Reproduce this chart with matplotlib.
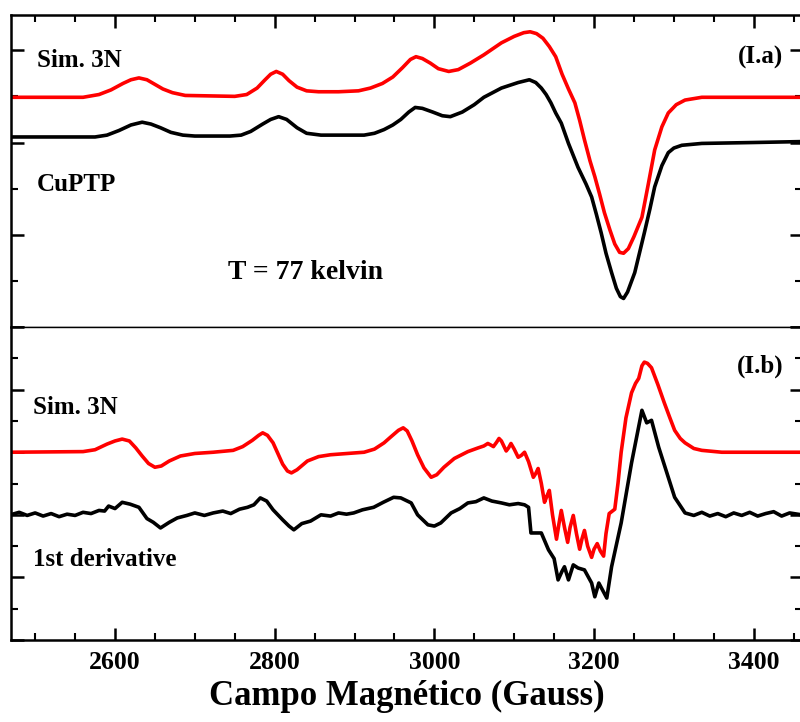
import numpy as np
import matplotlib
matplotlib.use("Agg")
import matplotlib.pyplot as plt
from matplotlib.ticker import MultipleLocator

plt.rcParams['font.family'] = ['Liberation Serif', 'DejaVu Serif']
plt.rcParams['font.weight'] = 'bold'

# ---- Datos (campo en Gauss, intensidad en unidades arbitrarias) ----
# Panel I.a : espectro integrado
campo_sim_a = [2469, 2560, 2580, 2595, 2610, 2620, 2630, 2640, 2650, 2660, 2672, 2688,
               2750, 2765, 2778, 2788, 2795, 2802, 2810, 2818, 2828, 2840, 2855, 2880,
               2905, 2920, 2935, 2948, 2960, 2970, 2977, 2985, 2995, 3005, 3018, 3030,
               3045, 3062, 3084, 3100, 3112, 3120, 3128, 3136, 3144, 3152, 3160, 3168,
               3176, 3182, 3188, 3195, 3201, 3207, 3213, 3220, 3226, 3232, 3237, 3243,
               3250, 3260, 3268, 3276, 3285, 3293, 3303, 3314, 3335, 3460]
sim_a = [2.49, 2.49, 2.52, 2.57, 2.64, 2.68, 2.70, 2.68, 2.63, 2.58, 2.54, 2.51,
         2.50, 2.52, 2.59, 2.68, 2.74, 2.77, 2.74, 2.67, 2.60, 2.56, 2.55, 2.55,
         2.56, 2.59, 2.64, 2.71, 2.81, 2.90, 2.93, 2.91, 2.86, 2.80, 2.77, 2.79,
         2.86, 2.95, 3.08, 3.15, 3.19, 3.20, 3.18, 3.13, 3.04, 2.93, 2.74, 2.58,
         2.43, 2.24, 2.03, 1.80, 1.63, 1.44, 1.24, 1.05, 0.90, 0.81, 0.80, 0.85,
         0.98, 1.19, 1.55, 1.92, 2.17, 2.32, 2.41, 2.46, 2.49, 2.49]

campo_exp_a = [2469, 2575, 2590, 2605, 2620, 2634, 2645, 2657, 2670, 2685, 2700, 2744,
               2758, 2770, 2785, 2795, 2805, 2815, 2828, 2840, 2858, 2912, 2925, 2937,
               2948, 2958, 2968, 2976, 2985, 2998, 3010, 3020, 3035, 3050, 3062, 3084,
               3105, 3119, 3127, 3134, 3140, 3146, 3152, 3159, 3168, 3180, 3190, 3197,
               3203, 3209, 3215, 3222, 3228, 3233, 3237, 3242, 3251, 3263, 3270, 3276,
               3285, 3293, 3300, 3310, 3335, 3400, 3460]
exp_a = [2.06, 2.06, 2.08, 2.13, 2.19, 2.22, 2.20, 2.16, 2.11, 2.08, 2.07, 2.07,
         2.08, 2.12, 2.20, 2.25, 2.28, 2.25, 2.16, 2.10, 2.08, 2.08, 2.10, 2.14,
         2.19, 2.25, 2.33, 2.38, 2.37, 2.33, 2.29, 2.28, 2.33, 2.41, 2.49, 2.59,
         2.65, 2.68, 2.65, 2.59, 2.52, 2.43, 2.32, 2.21, 1.99, 1.73, 1.55, 1.41,
         1.22, 1.02, 0.80, 0.59, 0.42, 0.33, 0.31, 0.38, 0.59, 1.02, 1.28, 1.52,
         1.75, 1.89, 1.94, 1.97, 1.99, 2.00, 2.01]

# Panel I.b : primera derivada
campo_sim_b = [2469, 2560, 2575, 2590, 2600, 2609, 2618, 2626, 2634, 2642, 2650, 2658,
               2668, 2682, 2700, 2723, 2748, 2760, 2772, 2780, 2785, 2791, 2798, 2804,
               2810, 2816, 2821, 2828, 2841, 2855, 2870, 2912, 2925, 2937, 2945, 2955,
               2961, 2966, 2972, 2979, 2987, 2996, 3003, 3012, 3025, 3042, 3055, 3062,
               3067, 3070, 3074, 3078, 3081, 3084, 3090, 3093, 3096, 3100, 3105, 3109,
               3113, 3118, 3124, 3127, 3130, 3134, 3138, 3141, 3144, 3148, 3153, 3156,
               3159, 3163, 3167, 3170, 3174, 3178, 3182, 3185, 3188, 3192, 3197, 3200,
               3204, 3208, 3212, 3215, 3219, 3226, 3230, 3234, 3240, 3247, 3252, 3256,
               3260, 3263, 3267, 3272, 3280, 3288, 3295, 3301, 3308, 3314, 3325, 3335,
               3360, 3460]
sim_b = [3.00, 3.01, 3.04, 3.13, 3.18, 3.21, 3.18, 3.07, 2.94, 2.82, 2.76, 2.78,
         2.86, 2.94, 2.98, 3.00, 3.03, 3.09, 3.19, 3.27, 3.31, 3.27, 3.15, 2.98,
         2.81, 2.70, 2.67, 2.72, 2.86, 2.93, 2.96, 3.00, 3.05, 3.15, 3.24, 3.35,
         3.39, 3.34, 3.18, 2.96, 2.75, 2.60, 2.64, 2.76, 2.90, 3.01, 3.07, 3.10,
         3.14, 3.12, 3.09, 3.16, 3.22, 3.18, 3.02, 3.07, 3.14, 3.05, 2.92, 2.95,
         3.00, 2.85, 2.60, 2.66, 2.74, 2.50, 2.20, 2.30, 2.39, 2.00, 1.61, 1.85,
         2.07, 1.80, 1.56, 1.80, 1.99, 1.70, 1.45, 1.62, 1.75, 1.50, 1.32, 1.45,
         1.54, 1.42, 1.34, 1.70, 2.02, 2.09, 2.50, 3.00, 3.55, 3.95, 4.10, 4.18,
         4.38, 4.44, 4.42, 4.35, 4.08, 3.79, 3.55, 3.35, 3.22, 3.15, 3.06, 3.03,
         3.00, 3.00]

campo_exp_b = [2469, 2480, 2490, 2500, 2510, 2520, 2530, 2540, 2550, 2560, 2570, 2580,
               2587, 2592, 2600, 2609, 2619, 2630, 2640, 2648, 2657, 2668, 2678, 2690,
               2700, 2712, 2723, 2735, 2745, 2756, 2766, 2774, 2782, 2790, 2798, 2810,
               2818, 2824, 2834, 2845, 2858, 2870, 2880, 2890, 2899, 2910, 2924, 2936,
               2949, 2958, 2971, 2979, 2992, 3000, 3008, 3021, 3032, 3042, 3052, 3062,
               3072, 3084, 3094, 3105, 3113, 3118, 3121, 3134, 3143, 3150, 3155, 3160,
               3163, 3168, 3174, 3180, 3188, 3197, 3201, 3206, 3216, 3222, 3234, 3247,
               3260, 3266, 3272, 3281, 3293, 3301, 3314, 3325, 3335, 3345, 3355, 3365,
               3375, 3385, 3395, 3405, 3415, 3425, 3435, 3445, 3460]
exp_b = [2.00, 2.04, 1.99, 2.03, 1.98, 2.02, 1.97, 2.01, 1.99, 2.04, 2.02, 2.07,
         2.06, 2.14, 2.10, 2.20, 2.17, 2.12, 1.94, 1.88, 1.79, 1.88, 1.95, 1.99,
         2.03, 1.99, 2.03, 2.06, 2.02, 2.09, 2.12, 2.16, 2.27, 2.22, 2.08, 1.92,
         1.82, 1.76, 1.86, 1.90, 2.00, 1.98, 2.03, 2.01, 2.03, 2.08, 2.12, 2.20,
         2.28, 2.27, 2.19, 2.00, 1.84, 1.82, 1.87, 2.03, 2.10, 2.19, 2.21, 2.27,
         2.22, 2.19, 2.16, 2.18, 2.16, 2.12, 1.71, 1.71, 1.44, 1.30, 0.96, 1.10,
         1.17, 0.96, 1.20, 1.15, 1.12, 0.91, 0.69, 0.91, 0.67, 1.17, 1.87, 2.83,
         3.67, 3.47, 3.51, 3.08, 2.60, 2.28, 2.03, 1.99, 2.04, 1.98, 2.02, 1.97,
         2.03, 1.99, 2.04, 1.98, 2.02, 2.05, 1.98, 2.03, 2.00]

xmin, xmax = 2470, 3460

fig = plt.figure(figsize=(8, 7.22), dpi=100)
ax1 = fig.add_axes([0.014, 0.547, 0.988, 0.432])
ax2 = fig.add_axes([0.014, 0.1136, 0.988, 0.4334])

lw = 2.6
estilo = dict(lw=lw, solid_joinstyle='round', solid_capstyle='round')
ax1.plot(campo_sim_a, sim_a, color='#ff0000', **estilo)
ax1.plot(campo_exp_a, exp_a, color='black', **estilo)
ax2.plot(campo_sim_b, sim_b, color='#ff0000', **estilo)
ax2.plot(campo_exp_b, exp_b, color='black', **estilo)

ax1.set_ylim(0, 3.38)
ax2.set_ylim(0, 5.0)

for ax in (ax1, ax2):
    ax.set_xlim(xmin, xmax)
    ax.xaxis.set_major_locator(MultipleLocator(200))
    ax.xaxis.set_minor_locator(MultipleLocator(50))
    ax.yaxis.set_major_locator(MultipleLocator(1))
    ax.yaxis.set_minor_locator(MultipleLocator(0.5))
    ax.set_yticklabels([])
    ax.tick_params(which='major', direction='in', length=9, width=1.8)
    ax.tick_params(which='minor', direction='in', length=5, width=1.5)
    for s in ax.spines.values():
        s.set_linewidth(1.8)

ax1.tick_params(which='both', top=True, bottom=False, left=True, right=True,
                labelbottom=False)
ax1.spines['bottom'].set_linewidth(1.0)
ax2.tick_params(which='both', top=False, bottom=True, left=True, right=True)
ax2.spines['top'].set_linewidth(1.0)
ax2.tick_params(axis='x', labelsize=18.5, pad=8)
for lab in ax2.get_xticklabels():
    lab.set_fontweight('bold')

ax2.set_xlabel('Campo Magnético (Gauss)', fontsize=25, fontweight='bold', labelpad=4)

fs = 18
ax1.text(0.033, 0.856, 'Sim. 3N', transform=ax1.transAxes, fontsize=fs, va='center')
ax1.text(0.032, 0.458, 'CuPTP', transform=ax1.transAxes, fontsize=fs, va='center')
ax1.text(0.274, 0.176, 'T = 77 kelvin', transform=ax1.transAxes, fontsize=20, va='center')
ax1.text(0.977, 0.865, '(I.a)', transform=ax1.transAxes, fontsize=fs, va='center', ha='right')
ax2.text(0.977, 0.875, '(I.b)', transform=ax2.transAxes, fontsize=fs, va='center', ha='right')
ax2.text(0.028, 0.744, 'Sim. 3N', transform=ax2.transAxes, fontsize=fs, va='center')
ax2.text(0.027, 0.256, '1st derivative', transform=ax2.transAxes, fontsize=fs, va='center')

plt.savefig('out.png', dpi=100)
